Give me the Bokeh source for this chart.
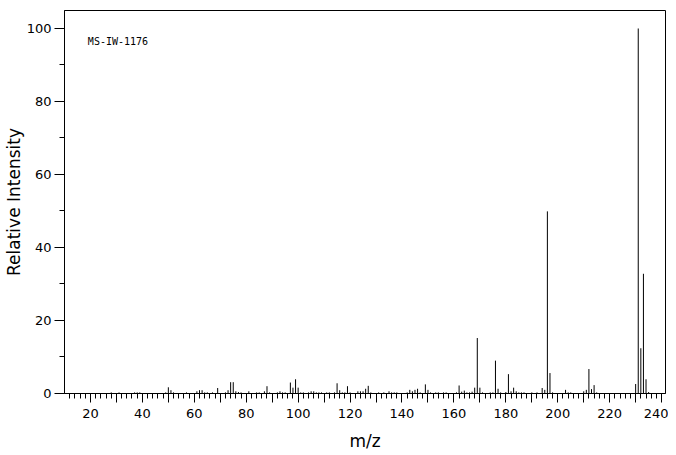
from bokeh.plotting import figure
from bokeh.models import FixedTicker, Label, Range1d
from bokeh.embed import file_html
from bokeh.resources import INLINE

# m/z values and relative intensities
mz = [28, 31, 37, 38, 39, 49, 50, 51, 52, 57, 61, 62, 63, 64, 65, 67, 69,
      72, 73, 74, 75, 76, 77, 78, 81, 84, 85, 87, 88, 89, 92, 93, 94, 95,
      97, 98, 99, 100, 101, 102, 104, 105, 106, 107, 108, 109, 111, 112,
      114, 115, 116, 117, 118, 119, 120, 123, 124, 125, 126, 127, 128, 131,
      133, 135, 136, 137, 138, 142, 143, 144, 145, 146, 147, 149, 150, 151,
      153, 154, 156, 157, 161, 162, 163, 164, 165, 166, 167, 168, 169, 170,
      171, 174, 175, 176, 177, 178, 180, 181, 182, 183, 184, 185, 186, 187,
      190, 192, 194, 195, 196, 197, 198, 203, 204, 205, 210, 211, 212, 213,
      214, 215, 230, 231, 232, 233, 234, 235]
intensity = [0.3, 0.3, 0.3, 0.3, 0.3, 0.3, 1.7, 0.9, 0.3, 0.3, 0.6, 0.9, 0.9, 0.3, 0.3, 0.3, 1.5,
             0.3, 0.9, 3.1, 3.1, 0.6, 0.4, 0.3, 0.6, 0.3, 0.3, 0.6, 2.0, 0.3, 0.3, 0.6, 0.3, 0.3,
             3.0, 1.6, 3.9, 1.6, 0.3, 0.3, 0.3, 0.6, 0.6, 0.3, 0.3, 0.3, 0.3, 0.3,
             0.3, 2.8, 0.9, 0.3, 0.3, 2.0, 0.3, 0.6, 0.6, 0.6, 1.3, 2.1, 0.3, 0.3,
             0.3, 0.6, 0.3, 0.3, 0.3, 0.3, 1.0, 0.6, 1.0, 1.3, 0.3, 2.5, 1.0, 0.3,
             0.3, 0.3, 0.3, 0.3, 0.3, 2.2, 0.5, 0.8, 0.3, 0.3, 0.5, 1.6, 15.2, 1.6,
             0.3, 0.3, 0.3, 9.0, 1.3, 0.3, 0.4, 5.3, 0.6, 1.6, 0.6, 0.3, 0.3, 0.3,
             0.3, 0.3, 1.5, 1.0, 49.9, 5.6, 0.3, 1.0, 0.3, 0.3, 0.6, 1.0, 6.7, 1.2,
             2.3, 0.3, 2.6, 100.0, 12.4, 32.8, 3.9, 0.4]
baseline = [0.0] * len(mz)

x_major = list(range(20, 241, 10))
x_minor = list(range(12, 242, 2))
x_labels = {t: "" for t in range(30, 241, 20)}
y_major = [0, 20, 40, 60, 80, 100]
y_minor = [10, 30, 50, 70, 90]
sample_id = "MS-IW-1176"
y_title = "Relative Intensity"
x_title = "m/z"

p = figure(width=668, height=453, output_backend="svg", toolbar_location=None,
           x_range=Range1d(10, 241.5), y_range=Range1d(0, 104.93),
           min_border_left=63, min_border_right=3, min_border_top=10, min_border_bottom=60,
           background_fill_color="white", border_fill_color="white")

p.segment(x0=mz, y0=baseline, x1=mz, y1=intensity, line_color="black", line_width=1)

p.xgrid.visible = False
p.ygrid.visible = False
p.outline_line_color = "black"
p.outline_line_width = 1

font = "DejaVu Sans"
for ax in (p.xaxis, p.yaxis):
    ax.axis_line_color = "black"
    ax.major_tick_line_color = "black"
    ax.minor_tick_line_color = "black"
    ax.major_tick_in = 0
    ax.minor_tick_in = 0
    ax.major_label_text_font = font
    ax.major_label_text_font_size = "13px"
    ax.major_label_text_color = "black"
    ax.axis_label_text_font = font
    ax.axis_label_text_font_size = "17px"
    ax.axis_label_text_font_style = "normal"
    ax.axis_label_text_color = "black"

p.xaxis.ticker = FixedTicker(ticks=x_major, minor_ticks=x_minor)
p.xaxis.major_label_overrides = x_labels
p.xaxis.major_tick_out = 9
p.xaxis.minor_tick_out = 5
p.xaxis.major_label_standoff = 6
p.xaxis.axis_label = x_title
p.xaxis.axis_label_standoff = 10

p.yaxis.ticker = FixedTicker(ticks=y_major, minor_ticks=y_minor)
p.yaxis.major_tick_out = 10
p.yaxis.minor_tick_out = 5
p.yaxis.major_label_standoff = 3
p.yaxis.axis_label = y_title
p.yaxis.axis_label_standoff = 0
p.yaxis.axis_label_text_line_height = 1.0

p.add_layout(Label(x=19.0, y=96.4, text=sample_id, text_baseline="middle",
                   text_font="DejaVu Sans Mono", text_font_size="10px", text_color="black"))

open("out.html", "w").write(file_html(p, INLINE))
